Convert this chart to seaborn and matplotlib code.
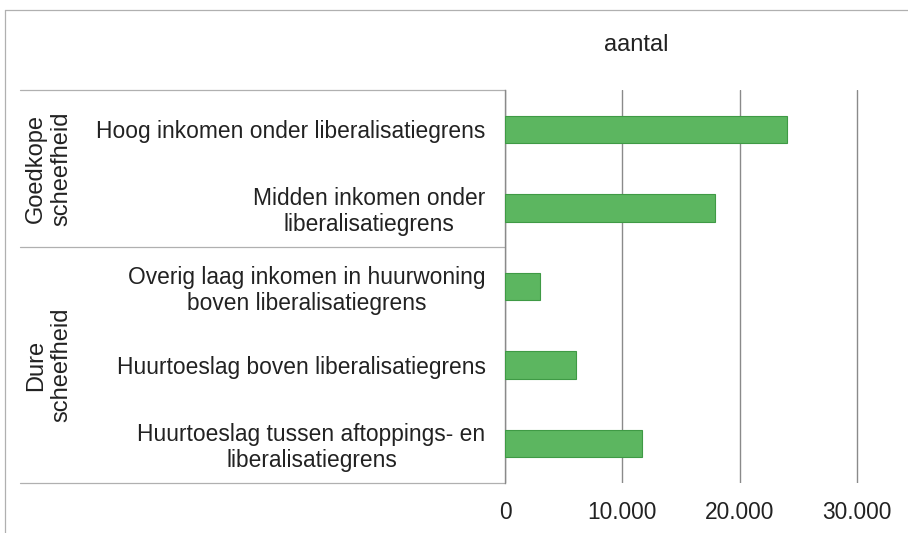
import matplotlib
matplotlib.use("Agg")
import matplotlib.pyplot as plt
import matplotlib.transforms as mtransforms
import seaborn as sns
import pandas as pd

categories = [
    "Hoog inkomen onder liberalisatiegrens",
    "Midden inkomen onder\nliberalisatiegrens",
    "Overig laag inkomen in huurwoning\nboven liberalisatiegrens",
    "Huurtoeslag boven liberalisatiegrens",
    "Huurtoeslag tussen aftoppings- en\nliberalisatiegrens",
]
values = [24050, 17930, 3000, 6050, 11700]
groups = ["Goedkope\nscheefheid", "Dure\nscheefheid"]
group_centers = [0.5, 3.0]
group_edges = [-0.5, 1.5, 4.5]
xticks = [0, 10000, 20000, 30000]
xtick_labels = ["0", "10.000", "20.000", "30.000"]

df = pd.DataFrame({"categorie": categories, "aantal": values})

sns.set_style("white")
plt.rcParams["font.family"] = ["Liberation Sans", "DejaVu Sans"]
text_color = "#222222"
fs = 16.4

W, H = 908, 533
fig = plt.figure(figsize=(W / 100, H / 100), dpi=100)
ax_l, ax_r, ax_t, ax_b = 505, 905, 90, 483
ax = fig.add_axes([ax_l / W, 1 - ax_b / H, (ax_r - ax_l) / W, (ax_b - ax_t) / H])

sns.barplot(
    data=df,
    x="aantal",
    y="categorie",
    orient="h",
    color="#5cb660",
    edgecolor="#3f9a45",
    linewidth=0.8,
    width=0.35,
    saturation=1,
    ax=ax,
    zorder=3,
)

ax.set_xlim(0, (ax_r - ax_l) / 117.3 * 10000)
ax.set_ylim(4.5, -0.5)
ax.set_xticks(xticks)
ax.set_xticklabels(xtick_labels, fontsize=fs, color=text_color)
ax.xaxis.grid(True, color="#8a8a8a", linewidth=1)
ax.tick_params(axis="x", length=0, pad=13)
ax.tick_params(axis="y", length=0, pad=14, labelsize=fs, labelcolor=text_color)
for lab in ax.get_yticklabels():
    lab.set_multialignment("center")
    lab.set_linespacing(1.15)
ax.set_xlabel("")
ax.set_ylabel("")
for side in ["top", "right", "bottom"]:
    ax.spines[side].set_visible(False)
ax.spines["left"].set_color("#8a8a8a")
ax.spines["left"].set_linewidth(1)

# box around the category labels
trans = mtransforms.blended_transform_factory(ax.transAxes, ax.transData)
box_x0 = (20 - ax_l) / (ax_r - ax_l)
for y in group_edges:
    ax.plot([box_x0, 0], [y, y], transform=trans, color="#b0b0b0",
            linewidth=0.9, clip_on=False)

gx = (49 - ax_l) / (ax_r - ax_l)
for name, yc in zip(groups, group_centers):
    ax.text(gx, yc, name, transform=trans, rotation=90, ha="center",
            va="center", fontsize=17, color=text_color,
            multialignment="center", linespacing=1.2)

fig.text(636 / W, 1 - 45 / H, "aantal", ha="center", va="center",
         fontsize=17, color=text_color)

# outer frame of the chart
fig.add_artist(plt.Line2D([5 / W, 5 / W], [0, 1 - 10 / H], color="#b0b0b0",
                          linewidth=0.9, transform=fig.transFigure))
fig.add_artist(plt.Line2D([5 / W, 1], [1 - 10 / H, 1 - 10 / H], color="#b0b0b0",
                          linewidth=0.9, transform=fig.transFigure))

fig.savefig("out.png", dpi=100)
